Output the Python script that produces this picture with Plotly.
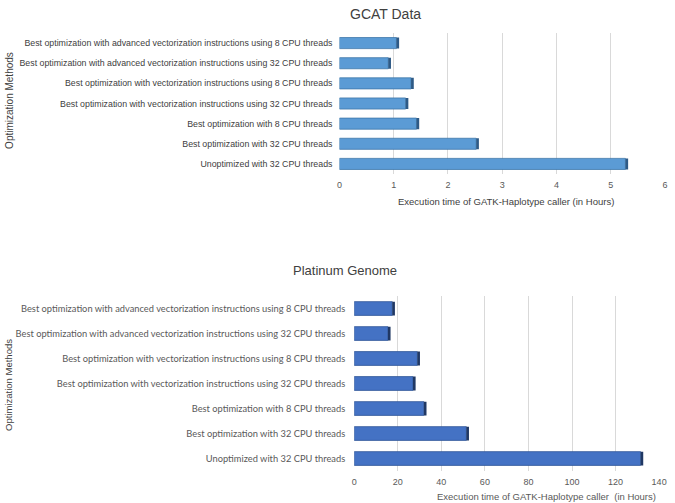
import plotly.graph_objects as go

categories = [
    "Unoptimized with 32 CPU threads",
    "Best optimization with 32 CPU threads",
    "Best optimization with 8 CPU threads",
    "Best optimization with vectorization instructions using 32 CPU threads",
    "Best optimization with vectorization instructions using 8 CPU threads",
    "Best optimization with advanced vectorization instructions using 32 CPU threads",
    "Best optimization with advanced vectorization instructions using 8 CPU threads",
]
gcat_hours = [5.27, 2.52, 1.42, 1.22, 1.32, 0.90, 1.05]
platinum_hours = [131.5, 51.5, 32.0, 27.0, 29.0, 15.5, 17.5]

gcat_ticks = [0, 1, 2, 3, 4, 5, 6]
platinum_ticks = [0, 20, 40, 60, 80, 100, 120, 140]

W, H = 675, 503
def py(px):
    return 1 - px / H
def pxx(px):
    return px / W

fig = go.Figure()
fig.add_trace(go.Bar(
    y=categories, x=gcat_hours, orientation="h", xaxis="x", yaxis="y",
    marker=dict(color="#5B9BD5", line=dict(color="#3F77AA", width=0.8)),
    width=0.55, showlegend=False,
))
fig.add_trace(go.Bar(
    y=categories, x=[0.05] * len(gcat_hours), base=gcat_hours, orientation="h",
    xaxis="x", yaxis="y", marker=dict(color="#2E5A86", line=dict(width=0)),
    width=0.55, showlegend=False, hoverinfo="skip",
))
fig.add_trace(go.Bar(
    y=categories, x=platinum_hours, orientation="h", xaxis="x2", yaxis="y2",
    marker=dict(color="#4472C4", line=dict(color="#2F5597", width=0.8)),
    width=0.55, showlegend=False,
))
fig.add_trace(go.Bar(
    y=categories, x=[1.2] * len(platinum_hours), base=platinum_hours, orientation="h",
    xaxis="x2", yaxis="y2", marker=dict(color="#203864", line=dict(width=0)),
    width=0.55, showlegend=False, hoverinfo="skip",
))

grid = "#D9D9D9"
numfont = dict(family="Liberation Sans, sans-serif", size=9, color="#595959")
fig.update_layout(
    width=W, height=H, margin=dict(l=0, r=0, t=0, b=0),
    paper_bgcolor="white", plot_bgcolor="white", barmode="overlay",
    xaxis=dict(domain=[pxx(342), pxx(673)], range=[0, 6], tickvals=gcat_ticks,
               showgrid=True, gridcolor=grid, zeroline=False, showline=False,
               tickfont=numfont, anchor="y", ticks="", ticklabelstandoff=4),
    yaxis=dict(domain=[py(174), py(33)], range=[-0.5, 6.5], type="category",
               tickfont=dict(family="Liberation Sans, sans-serif", size=8.8, color="#404040"),
               showline=False, ticks="", anchor="x",
               ticklabelstandoff=6, automargin=False),
    xaxis2=dict(domain=[pxx(357), pxx(667)], range=[0, 140], tickvals=platinum_ticks,
                showgrid=True, gridcolor=grid, zeroline=False, showline=False,
                tickfont=numfont, anchor="y2", ticks="", ticklabelstandoff=4),
    yaxis2=dict(domain=[py(471), py(296)], range=[-0.5, 6.5], type="category",
                tickfont=dict(family="Lato, Liberation Sans, sans-serif", size=9.3, color="#595959"),
                showline=False, ticks="", anchor="x2", ticklabelstandoff=8, automargin=False),
    annotations=[
        dict(text="GCAT Data", x=pxx(389), y=py(14)),
        dict(text="Execution time of GATK-Haplotype caller (in Hours)", x=pxx(511), y=py(201)),
        dict(text="Optimization Methods", x=pxx(7), y=py(100), textangle=-90),
        dict(text="Platinum Genome", x=pxx(348), y=py(270)),
        dict(text="Execution time of GATK-Haplotype caller  (in Hours)", x=pxx(553), y=py(496)),
        dict(text="Optimization Methods", x=pxx(5), y=py(385), textangle=-90),
    ],
)
fonts = [
    dict(family="Liberation Sans, sans-serif", size=14, color="#404040"),
    dict(family="Liberation Sans, sans-serif", size=9.5, color="#404040"),
    dict(family="Liberation Sans, sans-serif", size=10, color="#404040"),
    dict(family="Liberation Sans, sans-serif", size=13, color="#404040"),
    dict(family="Liberation Sans, sans-serif", size=9.5, color="#595959"),
    dict(family="Liberation Sans, sans-serif", size=9.5, color="#404040"),
]
for ann, f in zip(fig.layout.annotations, fonts):
    ann.update(xref="paper", yref="paper", showarrow=False, xanchor="center",
               yanchor="middle", font=f)

fig.write_html(
    "out.html",
    config={"displayModeBar": False},
    post_script="document.body.style.margin='0';document.body.style.overflow='hidden';"
                "document.documentElement.style.overflow='hidden';",
)
